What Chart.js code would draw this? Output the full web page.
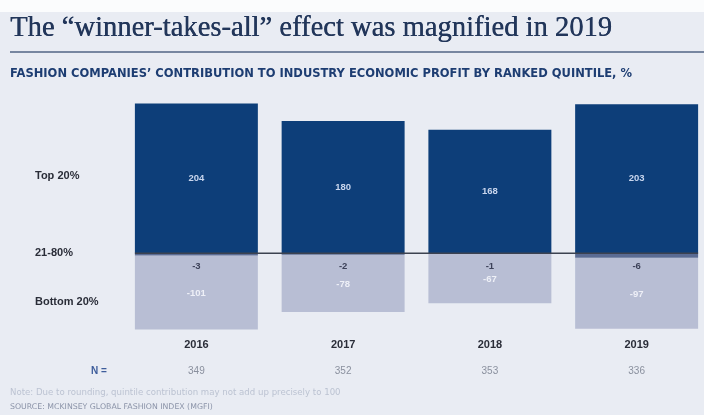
<!DOCTYPE html>
<html>
<head>
<meta charset="utf-8">
<script src="https://cdn.jsdelivr.net/npm/chart.js@4/dist/chart.umd.min.js"></script>
<style>
  html, body { margin: 0; padding: 0; background: #e9ecf3; overflow: hidden; }
  #wrap { width: 704px; height: 415px; overflow: hidden; position: relative; }
  canvas { display: block; }
</style>
</head>
<body>
<div id="wrap"><canvas id="c" width="712" height="415"></canvas></div>
<script>
// Economic profit contribution by ranked quintile, %
const years = ['2016', '2017', '2018', '2019'];
const top20 = [204, 180, 168, 203];
const middle60 = [-3, -2, -1, -6];
const bottom20 = [-101, -78, -67, -97];
const sampleSizes = [349, 352, 353, 336];
const rowLabels = ['Top 20%', '21-80%', 'Bottom 20%'];

const title = 'The \u201cwinner-takes-all\u201d effect was magnified in 2019';
const subtitle = 'FASHION COMPANIES\u2019 CONTRIBUTION TO INDUSTRY ECONOMIC PROFIT BY RANKED QUINTILE, %';
const footnote = 'Note: Due to rounding, quintile contribution may not add up precisely to 100';
const source = 'SOURCE: MCKINSEY GLOBAL FASHION INDEX (MGFI)';

const NAVY = '#0d3e79';
const MID = '#5a6b93';
const LIGHT = '#b8bed4';

const decor = {
  id: 'decor',
  beforeDraw(chart) {
    const ctx = chart.ctx;
    ctx.save();
    ctx.fillStyle = '#e9ecf3';
    ctx.fillRect(0, 0, chart.width, chart.height);
    ctx.fillStyle = '#fbfcfd';
    ctx.fillRect(0, 0, chart.width, 12);

    // title
    ctx.fillStyle = '#22365a';
    ctx.font = '29px "Liberation Serif", "DejaVu Serif", serif';
    ctx.textBaseline = 'alphabetic';
    ctx.textAlign = 'left';
    ctx.fillText(title, 10, 36, 602);
    ctx.fillText(title, 10.4, 36, 602);

    // rule under the title
    ctx.fillStyle = '#7786a0';
    ctx.fillRect(10, 51, 700, 2);

    // subtitle
    ctx.fillStyle = '#1d3d72';
    ctx.font = 'bold 11.5px "DejaVu Sans", "Liberation Sans", sans-serif';
    ctx.textBaseline = 'middle';
    ctx.fillText(subtitle, 10, 74, 627);
    ctx.restore();
  },
  afterDatasetsDraw(chart) {
    const ctx = chart.ctx;
    const x = chart.scales.x, y = chart.scales.y;
    const y0 = y.getPixelForValue(0);
    const bars = chart.getDatasetMeta(0).data;
    ctx.save();

    // zero line
    const left = bars[0].x - bars[0].width / 2;
    const last = bars[bars.length - 1];
    ctx.strokeStyle = '#3c4250';
    ctx.lineWidth = 1.5;
    ctx.beginPath();
    ctx.moveTo(left, y0);
    ctx.lineTo(last.x + last.width / 2, y0);
    ctx.stroke();

    ctx.textAlign = 'center';
    ctx.textBaseline = 'middle';
    ctx.font = 'bold 9.5px "Liberation Sans", Arial, sans-serif';
    years.forEach((yr, i) => {
      const cx = x.getPixelForValue(i);
      // top quintile value
      ctx.fillStyle = '#c9d6ee';
      ctx.fillText(String(top20[i]), cx, (y.getPixelForValue(top20[i]) + y0) / 2);
      // middle quintiles value, just under the zero line
      ctx.fillStyle = '#3d4259';
      ctx.fillText(String(middle60[i]), cx, y0 + 13);
      // bottom quintile value
      const bTop = y.getPixelForValue(middle60[i]);
      const bBot = y.getPixelForValue(middle60[i] + bottom20[i]);
      ctx.fillStyle = '#eef0f7';
      ctx.fillText(String(bottom20[i]), cx, (bTop + bBot) / 2 + 1);
    });

    // row labels
    ctx.textAlign = 'left';
    ctx.fillStyle = '#2a2d38';
    ctx.font = 'bold 11px "Liberation Sans", Arial, sans-serif';
    ctx.fillText(rowLabels[0], 35, y.getPixelForValue(105));
    ctx.fillText(rowLabels[1], 35, y0);
    ctx.fillText(rowLabels[2], 35, y.getPixelForValue(-67));

    // year labels and sample sizes
    ctx.textAlign = 'center';
    years.forEach((yr, i) => {
      const cx = x.getPixelForValue(i);
      ctx.fillStyle = '#2a2d38';
      ctx.font = 'bold 11px "Liberation Sans", Arial, sans-serif';
      ctx.fillText(yr, cx, 345);
      ctx.fillStyle = '#8a909e';
      ctx.font = '10px "Liberation Sans", Arial, sans-serif';
      ctx.fillText(String(sampleSizes[i]), cx, 371);
    });
    ctx.fillStyle = '#3e5d9b';
    ctx.font = 'bold 10px "Liberation Sans", Arial, sans-serif';
    ctx.fillText('N =', 99, 371);

    // notes
    ctx.textAlign = 'left';
    ctx.fillStyle = '#bcc3d2';
    ctx.font = '8.6px "DejaVu Sans", "Liberation Sans", sans-serif';
    ctx.fillText(footnote, 10, 393, 333);
    ctx.fillStyle = '#8b93a8';
    ctx.font = '7.8px "DejaVu Sans", "Liberation Sans", sans-serif';
    ctx.fillText(source, 10, 407, 205);
    ctx.restore();
  }
};

new Chart(document.getElementById('c'), {
  type: 'bar',
  data: {
    labels: years,
    datasets: [
      { label: rowLabels[0], data: top20, backgroundColor: NAVY },
      { label: rowLabels[1], data: middle60, backgroundColor: MID },
      { label: rowLabels[2], data: bottom20, backgroundColor: LIGHT }
    ]
  },
  options: {
    responsive: false,
    animation: false,
    devicePixelRatio: 1,
    layout: { padding: { left: 123, right: 2, top: 99, bottom: 81 } },
    datasets: { bar: { barPercentage: 1, categoryPercentage: 0.838, borderWidth: 0 } },
    scales: {
      x: { display: false, stacked: true },
      y: { display: false, stacked: true, min: -110, max: 210 }
    },
    plugins: { legend: { display: false }, tooltip: { enabled: false } }
  },
  plugins: [decor]
});
</script>
</body>
</html>
